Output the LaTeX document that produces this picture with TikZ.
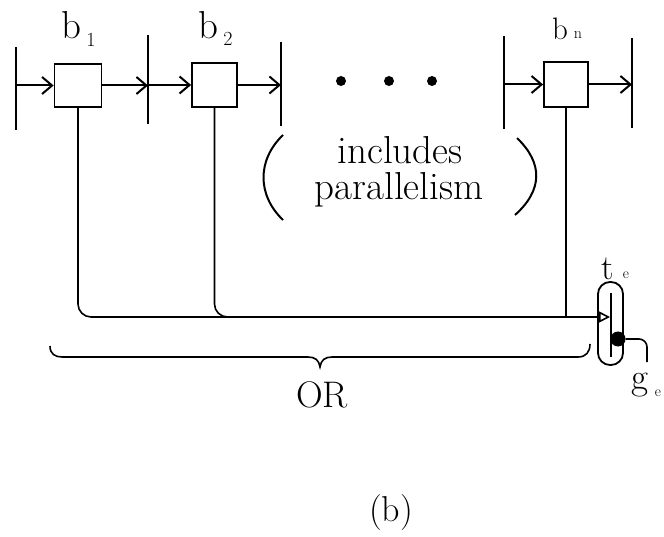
\documentclass[tikz,border=0pt]{standalone}
\usepackage{fontspec}
\usetikzlibrary{arrows.meta}
\begin{document}
\begin{tikzpicture}[x=1pt,y=-1pt,
  box/.style={draw, inner sep=0pt, line width=1.8pt},
  bar/.style={line width=2.6pt},
  sig/.style={line width=1.6pt},
  flow/.style={line width=2pt, -{Straight Barb[length=10pt,width=17pt,line width=2pt]}},
  sigarrow/.style={line width=1.6pt, -{Triangle[open,length=11pt,width=11pt,line width=1.6pt]}},
  big/.style={inner sep=0pt, font=\fontsize{39}{44}\selectfont},
  mid/.style={inner sep=0pt, font=\fontsize{31}{34}\selectfont},
  small/.style={inner sep=0pt, font=\fontsize{20}{22}\selectfont},
  tiny/.style={inner sep=0pt, font=\fontsize{16}{18}\selectfont},
  dotn/.style={circle, fill, inner sep=0pt, minimum size=10pt}]
\useasboundingbox (0,0) rectangle (664,537);

% bars
\coordinate (B1t) at (16,47);  \coordinate (B1b) at (16,130);
\coordinate (B2t) at (148,35); \coordinate (B2b) at (148,124);
\coordinate (B3t) at (281,42); \coordinate (B3b) at (281,126);
\coordinate (B4t) at (504,36); \coordinate (B4b) at (504,129);
\coordinate (B5t) at (632,38); \coordinate (B5b) at (632,128);
\foreach \b in {B1,B2,B3,B4,B5} {\draw[bar] (\b t) -- (\b b);}

% boxes
\node[box, minimum width=47pt, minimum height=43pt] (box1) at (78,85.5) {};
\node[box, minimum width=45pt, minimum height=44pt] (box2) at (214.5,85) {};
\node[box, minimum width=44pt, minimum height=45pt] (boxn) at (566,84.5) {};

% flow arrows
\draw[flow] (box1.west -| B1t) -- (box1.west);
\draw[flow] (box1.east) -- (box1.east -| B2t);
\draw[flow] (box2.west -| B2t) -- (box2.west);
\draw[flow] (box2.east) -- (box2.east -| B3t);
\draw[flow] (boxn.west -| B4t) -- (boxn.west);
\draw[flow] (boxn.east) -- (boxn.east -| B5t);

% labels b
\node[big] (lb1) at (71,25) {b};
\node[small] (lb1s) at (91,40) {1};
\node[big] (lb2) at (208,25) {b};
\node[small] (lb2s) at (228,39) {2};
\node[mid] (lbn) at (560,29) {b};
\node[tiny] (lbns) at (578,35) {n};

% ellipsis
\node[dotn] (d1) at (341,81) {};
\node[dotn] (d2) at (389,81) {};
\node[dotn] (d3) at (432,81) {};

% parenthesised text
\node[big] (inc) at (400,150) {includes};
\node[big] (par) at (399,190) {parallelism};
\draw[line width=2pt] (283,135) .. controls (257,160) and (257,195) .. (283,220);
\draw[line width=2pt] (517,138) .. controls (543,163) and (543,190) .. (515,215);

% capsule t_e
\node[draw, line width=1.8pt, rounded corners=12pt, minimum width=25pt, minimum height=83pt, inner sep=0pt] (te) at (610.5,323.5) {};
\coordinate (It) at (611,293);
\coordinate (Ib) at (611,357);
\draw[sig] (It) -- (Ib);
\coordinate (tip) at (610,317);
\node[dotn, minimum size=15pt] (dot) at (618,339) {};
\coordinate (gend) at (647,362);
\draw[sig, rounded corners=8pt] (dot.east) -| (gend);

% signal lines
\draw[sigarrow, rounded corners=13pt] (box1.south) |- (tip);
\coordinate (j2) at (240,317);
\draw[sig, rounded corners=13pt] (box2.south) |- (j2);
\draw[sig] (boxn.south) -- (boxn.south |- tip);

\node[inner sep=0pt, font=\fontsize{35}{38}\selectfont] (lt) at (608,269) {t};
\node[tiny, font=\fontsize{15}{17}\selectfont] (lts) at (626,275) {e};
\node[inner sep=0pt, font=\fontsize{37}{40}\selectfont] (lg) at (640,385) {g};
\node[tiny, font=\fontsize{15}{17}\selectfont] (lgs) at (658,393) {e};

% brace
\draw[sig] (50,346) .. controls (50,354) and (55,357) .. (62,357) -- (308,357)
  .. controls (315,357) and (319,360) .. (320,367)
  .. controls (321,360) and (325,357) .. (332,357) -- (578,357)
  .. controls (586,357) and (590,352) .. (590,344);
\node[inner sep=0pt, font=\fontsize{37}{40}\selectfont] (or) at (322,395) {OR};

\node[inner sep=0pt, font=\fontsize{36}{40}\selectfont] (cap) at (391,513) {(b)};
\end{tikzpicture}
\end{document}
